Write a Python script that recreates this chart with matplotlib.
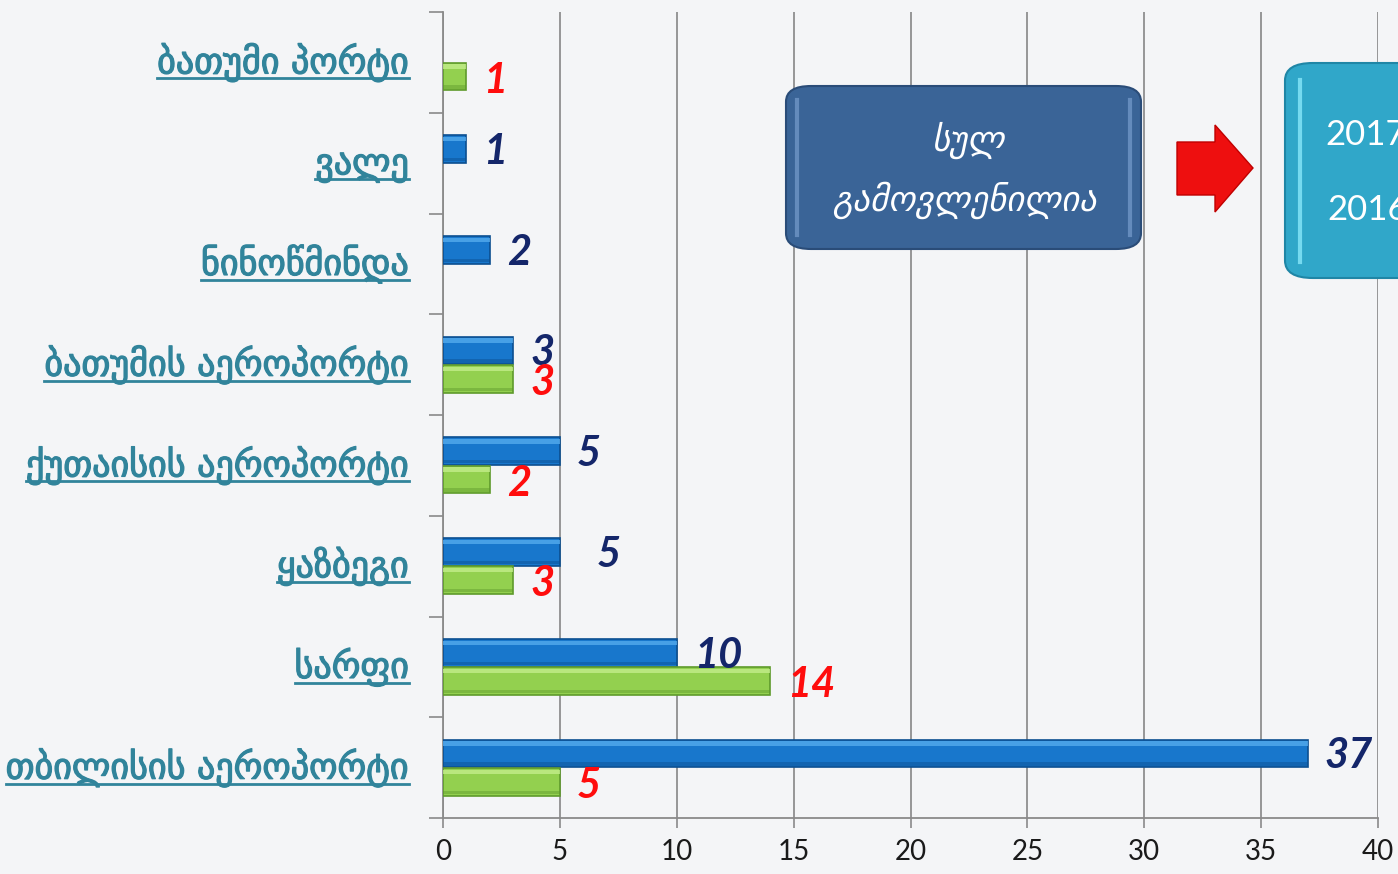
import matplotlib
matplotlib.use("Agg")
import matplotlib.pyplot as plt
from matplotlib.patches import FancyBboxPatch, Polygon
from matplotlib.lines import Line2D
import matplotlib.transforms as mtransforms
import matplotlib.patheffects as pe
import numpy as np

# ---------------- data ----------------
categories = ["ბათუმი პორტი", "ვალე", "ნინოწმინდა", "ბათუმის აეროპორტი",
              "ქუთაისის აეროპორტი", "ყაზბეგი", "სარფი", "თბილისის აეროპორტი"]
values_2017 = [None, 1, 2, 3, 5, 5, 10, 37]
values_2016 = [1, None, None, 3, 2, 3, 14, 5]
series_names = ["2017", "2016"]
xticks = [0, 5, 10, 15, 20, 25, 30, 35, 40]
box_text = "სულ\nგამოვლენილია"

# ---------------- figure ----------------
W, H = 1398, 874
fig = plt.figure(figsize=(W / 100, H / 100), dpi=100)
fig.patch.set_facecolor("#f4f5f7")

ax = fig.add_axes([443 / W, (H - 818) / H, (1378 - 443) / W, (818 - 12) / H])
ax.set_facecolor("none")

n = len(categories)
pos = np.arange(n)
bh = 0.275
off = 0.14

blue_main, blue_hi, blue_dk = "#1877cc", "#58aef0", "#0b4f90"
green_main, green_hi, green_dk = "#93d04f", "#c6f08e", "#5f9a2c"

def draw_series(vals, centers, main, hi, dk):
    v = np.array([0 if x is None else x for x in vals], dtype=float)
    mask = np.array([x is not None for x in vals])
    c = centers[mask]
    v = v[mask]
    ax.barh(c, v, height=bh, color=main, edgecolor=dk, linewidth=1.2, zorder=3)
    # bevel highlight (top) and shade (bottom)
    ax.barh(c - bh * 0.36, v, height=bh * 0.16, color=hi, alpha=0.75,
            linewidth=0, zorder=4)
    ax.barh(c + bh * 0.38, v, height=bh * 0.12, color=dk, alpha=0.45,
            linewidth=0, zorder=4)
    return c, v

c17, v17 = draw_series(values_2017, pos - off, blue_main, blue_hi, blue_dk)
c16, v16 = draw_series(values_2016, pos + off, green_main, green_hi, green_dk)

label_font = dict(family=["Lato", "DejaVu Sans"], fontsize=30,
                  fontweight="bold", fontstyle="italic")
nudge17 = {5: 20}  # extra offset (px) of the ყაზბეგი label
for i, val in enumerate(values_2017):
    if val is None:
        continue
    ax.annotate(f"{val}", xy=(val, pos[i] - off),
                xytext=((17 + nudge17.get(i, 0)) * 0.72, -2),
                textcoords="offset points", ha="left", va="center",
                color="#14266a", zorder=6, **label_font)
for i, val in enumerate(values_2016):
    if val is None:
        continue
    ax.annotate(f"{val}", xy=(val, pos[i] + off), xytext=(17 * 0.72, -3),
                textcoords="offset points", ha="left", va="center",
                color="#ff0d0d", zorder=6, **label_font)

ax.set_xlim(0, 40)
ax.set_ylim(n - 0.5, -0.5)
ax.set_xticks(xticks)
ax.set_xticklabels([str(t) for t in xticks], family=["Lato", "DejaVu Sans"],
                   fontsize=20, color="#1a1a1a")
ax.tick_params(axis="x", length=7, width=1.2, color="#8a8a8a", pad=8)
ax.set_yticks(np.arange(n + 1) - 0.5)
ax.set_yticklabels([])
ax.tick_params(axis="y", length=10, width=1.2, color="#8a8a8a")
ax.grid(axis="x", color="#8f8f8f", linewidth=1.3, zorder=0)
ax.set_axisbelow(True)
for s in ["top", "right"]:
    ax.spines[s].set_visible(False)
for s in ["left", "bottom"]:
    ax.spines[s].set_color("#8a8a8a")
    ax.spines[s].set_linewidth(1.3)

# category labels (underlined)
trans = mtransforms.blended_transform_factory(ax.transAxes, ax.transData)
cat_texts = []
for i, cat in enumerate(categories):
    t = ax.text(-34 / (1378 - 443), pos[i] + 0.11, cat, transform=trans,
                ha="right", va="baseline", fontsize=26, color="#31849b",
                family=["DejaVu Sans"], zorder=5,
                path_effects=[pe.withStroke(linewidth=0.9, foreground="#31849b")])
    cat_texts.append(t)

# ---------------- annotation boxes ----------------
box1 = FancyBboxPatch((786 / W, (H - 249) / H), (1141 - 786) / W, (249 - 86) / H,
                      boxstyle="round,pad=0,rounding_size=0.018",
                      transform=fig.transFigure, facecolor="#3a6497",
                      edgecolor="#2a4c78", linewidth=1.5, zorder=10)
fig.patches.append(box1)
for xs in (797, 1130):
    fig.add_artist(Line2D([xs / W, xs / W], [1 - 100 / H, 1 - 235 / H],
                          transform=fig.transFigure, color="#6f96c6",
                          linewidth=3, alpha=0.8, zorder=11))
lines = box_text.split("\n")
fig.text(968 / W, 1 - 140 / H, lines[0], ha="center", va="center",
         color="white", fontsize=25, fontstyle="italic", family=["DejaVu Sans"],
         zorder=12)
fig.text(965 / W, 1 - 200 / H, lines[1], ha="center", va="center",
         color="white", fontsize=25, fontstyle="italic", family=["DejaVu Sans"],
         zorder=12)

arrow_px = [(1177, 142), (1215, 142), (1215, 125), (1253, 168),
            (1215, 212), (1215, 195), (1177, 195)]
arrow = Polygon([(x / W, 1 - y / H) for x, y in arrow_px], closed=True,
                transform=fig.transFigure, facecolor="#ee0f0f",
                edgecolor="#c00000", linewidth=1, zorder=10)
fig.patches.append(arrow)

box2 = FancyBboxPatch((1285 / W, (H - 278) / H), 200 / W, (278 - 63) / H,
                      boxstyle="round,pad=0,rounding_size=0.02",
                      transform=fig.transFigure, facecolor="#30a7c9",
                      edgecolor="#1f86a6", linewidth=1.5, zorder=10)
fig.patches.append(box2)
fig.add_artist(Line2D([1300 / W, 1300 / W], [1 - 80 / H, 1 - 262 / H],
                      transform=fig.transFigure, color="#7ee0f5",
                      linewidth=3, alpha=0.9, zorder=11))
fig.text(1325 / W, 1 - 135 / H, series_names[0], ha="left", va="center",
         color="white", fontsize=25, family=["Lato", "DejaVu Sans"], zorder=12)
fig.text(1327 / W, 1 - 210 / H, series_names[1], ha="left", va="center",
         color="white", fontsize=25, family=["Lato", "DejaVu Sans"], zorder=12)

# underline category labels
fig.canvas.draw()
r = fig.canvas.get_renderer()
for i, t in enumerate(cat_texts):
    bb = t.get_window_extent(renderer=r)
    base_y = ax.transData.transform((0, pos[i] + 0.11))[1] - 5
    fig.add_artist(Line2D([bb.x0 / W, bb.x1 / W], [base_y / H, base_y / H],
                          transform=fig.transFigure, color="#31849b",
                          linewidth=2))

fig.savefig("out.png", dpi=100, facecolor=fig.get_facecolor())
